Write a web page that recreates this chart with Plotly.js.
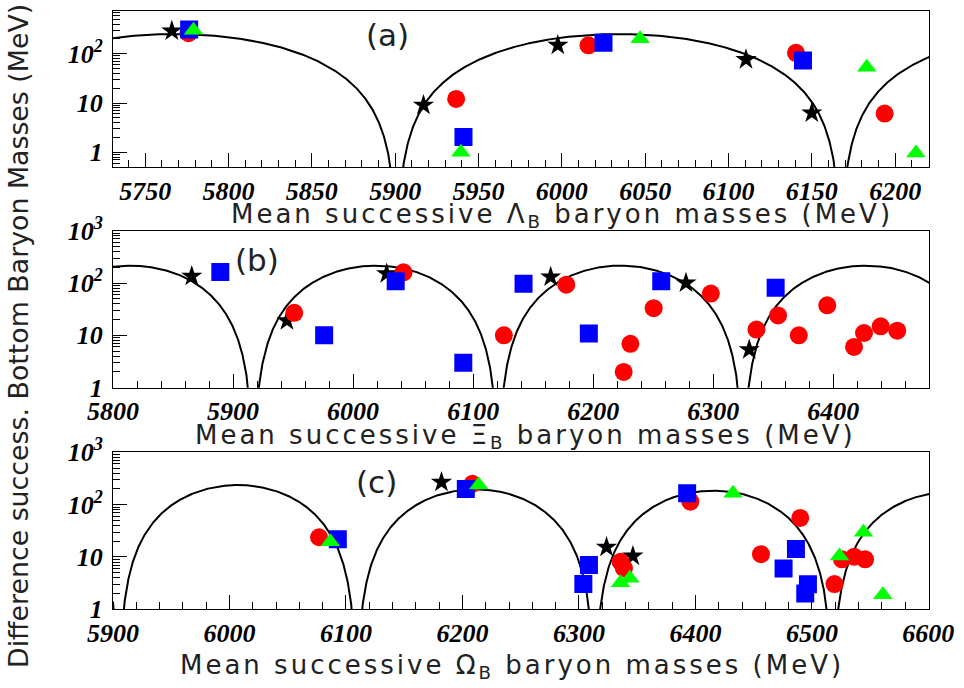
<!DOCTYPE html>
<html><head><meta charset="utf-8">
<script src="https://cdn.plot.ly/plotly-3.0.1.min.js"></script>
<style>
html,body{margin:0;padding:0;background:#fff}
#chart{width:964px;height:688px}
text[data-unformatted^="Mean successive"]{letter-spacing:3.0px}
</style>
</head><body><div id="chart"></div>
<script>
// ---------- Panel (a): Lambda_B ----------
const aStarX   = [5766, 5917, 5997.6, 6110.5, 6150];
const aStarY   = [290, 9.0, 148, 76, 6.3];
const aCircX   = [5776, 5936.6, 6016, 6140.5, 6193.7];
const aCircY   = [260, 12.1, 148, 104, 6.1];
const aSqX     = [5776.4, 5941, 6025, 6144.7];
const aSqY     = [311, 2.05, 166, 72.5];
const aTriX    = [5779, 5939.4, 6047, 6183, 6212.5];
const aTriY    = [298, 1.0, 200, 53, 0.97];

// ---------- Panel (b): Xi_B ----------
const bStarX   = [5865.6, 5944.9, 6028, 6164.6, 6277.3, 6330];
const bStarY   = [135, 19.1, 151, 131, 100, 5.3];
const bCircX   = [5951, 6042, 6125.6, 6177.6, 6225.4, 6231, 6250.4, 6298, 6336, 6354, 6371.3, 6395, 6417.3, 6425.6, 6439.5, 6453.3];
const bCircY   = [27, 160, 10, 93, 2.0, 6.9, 33, 63, 12.9, 24, 10, 37.5, 6.0, 11.1, 14.9, 12.3];
const bSqX     = [5889.4, 5975.9, 6035.5, 6091.8, 6142, 6196.4, 6256.7, 6352];
const bSqY     = [163, 10, 108, 3.0, 97, 10.8, 108, 81];

// ---------- Panel (c): Omega_B ----------
const cStarX   = [6182, 6323.7, 6346.3];
const cStarY   = [268, 15.3, 10.4];
const cCircX   = [6076.9, 6208.6, 6335.7, 6338.6, 6395.7, 6456.3, 6490, 6519.4, 6525.8, 6536.3, 6545.7];
const cCircY   = [23.8, 250, 8.1, 6.1, 114, 11.3, 55.6, 3.04, 9.0, 10.1, 9.0];
const cSqX     = [6093, 6202.9, 6303.8, 6308.6, 6392.9, 6475.7, 6486.3, 6494.3, 6496.6];
const cSqY     = [21.8, 199, 3.05, 7.0, 165, 6.0, 14.2, 2.0, 3.0];
const cTriX    = [6086.6, 6214, 6335.7, 6343.7, 6432.3, 6523.7, 6544.3, 6560.9];
const cTriY    = [19.6, 237, 3.2, 3.9, 165, 10.4, 29.6, 1.9];

// ---------- fitted model curves: A_k * sin^2(pi (M - M0)/P) ----------
const aCurveZero = [5901];   const aCurvePeriod = [266.5]; const aCurveAmp = [251, 251, 251];
const bCurveZero = [5917];   const bCurvePeriod = [204];   const bCurveAmp = [215, 215, 215, 215];
const cCurveZero = [5905];   const cCurvePeriod = [204.2]; const cCurveAmp = [237, 237, 196, 185, 174];

// tick labels
const xTicksA = [5750, 5800, 5850, 5900, 5950, 6000, 6050, 6100, 6150, 6200];
const xTicksB = [5800, 5900, 6000, 6100, 6200, 6300, 6400];
const xTicksC = [5900, 6000, 6100, 6200, 6300, 6400, 6500, 6600];
const yTickValsA = [1, 10, 100];
const yTickTextA = ['1', '10', '10<sup>2</sup>'];
const yTickVals  = [1, 10, 100, 1000];
const yTickText  = ['1', '10', '10<sup>2</sup>', '10<sup>3</sup>'];

function curve(range, zero, period, amps) {
  const xs = [], ys = [];
  const step = 0.2;
  for (let x = range[0]; x <= range[1] + 1e-9; x += step) {
    const k = Math.floor((x - zero) / period);
    const a = amps[Math.min(Math.max(k + 1, 0), amps.length - 1)];
    const s = Math.sin(Math.PI * (x - zero) / period);
    xs.push(x); ys.push(a * s * s);
  }
  return {x: xs, y: ys};
}

const rangeA = [5730.7, 6220.5], rangeB = [5800, 6480], rangeC = [5900, 6600.8];

function lineTrace(c, xa, ya) {
  return {x: c.x, y: c.y, xaxis: xa, yaxis: ya, mode: 'lines', type: 'scatter',
          line: {color: '#000', width: 2}, hoverinfo: 'skip', showlegend: false};
}
function mk(x, y, symbol, color, size, xa, ya) {
  return {x: x, y: y, xaxis: xa, yaxis: ya, mode: 'markers', type: 'scatter', showlegend: false,
          marker: {symbol: symbol, color: color, size: size, line: {width: 0}}};
}

const ca = curve(rangeA, aCurveZero[0], aCurvePeriod[0], aCurveAmp);
const cb = curve(rangeB, bCurveZero[0], bCurvePeriod[0], bCurveAmp);
const cc = curve(rangeC, cCurveZero[0], cCurvePeriod[0], cCurveAmp);

const RED = '#ff0000', BLUE = '#0000ff', GREEN = '#00ff00', BLACK = '#000000';
const SC = 18, SS = 18, ST = 17, SSTAR = 16;

const traces = [
  lineTrace(ca, 'x', 'y'),
  mk(aStarX, aStarY, 'star', BLACK, SSTAR, 'x', 'y'),
  mk(aCircX, aCircY, 'circle', RED, SC, 'x', 'y'),
  mk(aSqX, aSqY, 'square', BLUE, SS, 'x', 'y'),
  mk(aTriX, aTriY, 'triangle-up', GREEN, ST, 'x', 'y'),

  lineTrace(cb, 'x2', 'y2'),
  mk(bStarX, bStarY, 'star', BLACK, SSTAR, 'x2', 'y2'),
  mk(bCircX, bCircY, 'circle', RED, SC, 'x2', 'y2'),
  mk(bSqX, bSqY, 'square', BLUE, SS, 'x2', 'y2'),

  lineTrace(cc, 'x3', 'y3'),
  mk(cStarX, cStarY, 'star', BLACK, SSTAR, 'x3', 'y3'),
  mk(cCircX, cCircY, 'circle', RED, SC, 'x3', 'y3'),
  mk(cSqX, cSqY, 'square', BLUE, SS, 'x3', 'y3'),
  mk(cTriX, cTriY, 'triangle-up', GREEN, ST, 'x3', 'y3')
];

const tickFont = {family: 'Liberation Serif, Times New Roman, serif', size: 26, weight: 'bold', style: 'italic', color: '#000'};
const xDomain = [113 / 964, 929.3 / 964];

function minorLog(lo, hi) {
  const v = [];
  for (let d = lo; d <= hi; d++) for (let m = 2; m <= 9; m++) v.push(m * Math.pow(10, d));
  return v;
}

function xAxis(range, tickvals, minorStep, anchor) {
  return {domain: xDomain, range: range, anchor: anchor, tickmode: 'array', tickvals: tickvals,
          ticktext: tickvals.map(String),
          ticks: 'inside', ticklen: 14, tickwidth: 1, tickcolor: '#000',
          showline: true, linecolor: '#000', linewidth: 1, mirror: true,
          showgrid: false, zeroline: false, tickfont: tickFont, ticklabelstandoff: 0,
          minor: {ticks: 'inside', ticklen: 7, tickwidth: 1, tickcolor: '#000', dtick: minorStep, tick0: tickvals[0], showgrid: false}};
}
function yAxis(domain, range, tv, tt, anchor) {
  return {domain: domain, type: 'log', range: range, anchor: anchor, tickmode: 'array', tickvals: tv, ticktext: tt,
          ticks: 'inside', ticklen: 14, tickwidth: 1, tickcolor: '#000',
          showline: true, linecolor: '#000', linewidth: 1, mirror: true,
          showgrid: false, zeroline: false, tickfont: tickFont, ticklabelstandoff: 4,
          minor: {ticks: 'inside', ticklen: 7, tickwidth: 1, tickcolor: '#000', tickvals: minorLog(-1, 2), showgrid: false}};
}

const titleFont = {family: 'DejaVu Sans, sans-serif', size: 26, color: '#222'};
const ytitleFont = {family: 'DejaVu Sans, sans-serif', size: 26.8, color: '#222'};
const labelFont = {family: 'DejaVu Sans, sans-serif', size: 31, color: '#222'};

function ann(text, px, py, font, extra) {
  return Object.assign({text: text, x: px / 964, y: 1 - py / 688, xref: 'paper', yref: 'paper',
          xanchor: 'center', yanchor: 'middle', showarrow: false, font: font}, extra || {});
}

const layout = {
  width: 964, height: 688, margin: {l: 0, r: 0, t: 0, b: 0},
  paper_bgcolor: '#fff', plot_bgcolor: '#fff', showlegend: false,
  xaxis:  xAxis(rangeA, xTicksA, 10, 'y'),
  yaxis:  yAxis([1 - 167.3 / 688, 1 - 10.7 / 688], [-0.304, 2.872], yTickValsA, yTickTextA, 'x'),
  xaxis2: xAxis(rangeB, xTicksB, 20, 'y2'),
  yaxis2: yAxis([1 - 387.7 / 688, 1 - 230.7 / 688], [0, 3], yTickVals, yTickText, 'x2'),
  xaxis3: xAxis(rangeC, xTicksC, 20, 'y3'),
  yaxis3: yAxis([1 - 609.3 / 688, 1 - 452.3 / 688], [0, 3], yTickVals, yTickText, 'x3'),
  annotations: [
    ann('Mean successive \u039B<sub>B</sub> baryon masses (MeV)', 562, 215, titleFont),
    ann('Mean successive \u039E<sub>B</sub> baryon masses (MeV)', 525, 436, titleFont),
    ann('Mean successive \u03A9<sub>B</sub> baryon masses (MeV)', 512, 666, titleFont),
    ann('Difference success. Bottom Baryon Masses (MeV)', 18, 336, ytitleFont, {textangle: -90}),
    ann('(a)', 387, 35, labelFont),
    ann('(b)', 257, 260, labelFont),
    ann('(c)', 376, 482, labelFont)
  ]
};

Plotly.newPlot('chart', traces, layout, {staticPlot: true, displayModeBar: false});
</script>
</body></html>
